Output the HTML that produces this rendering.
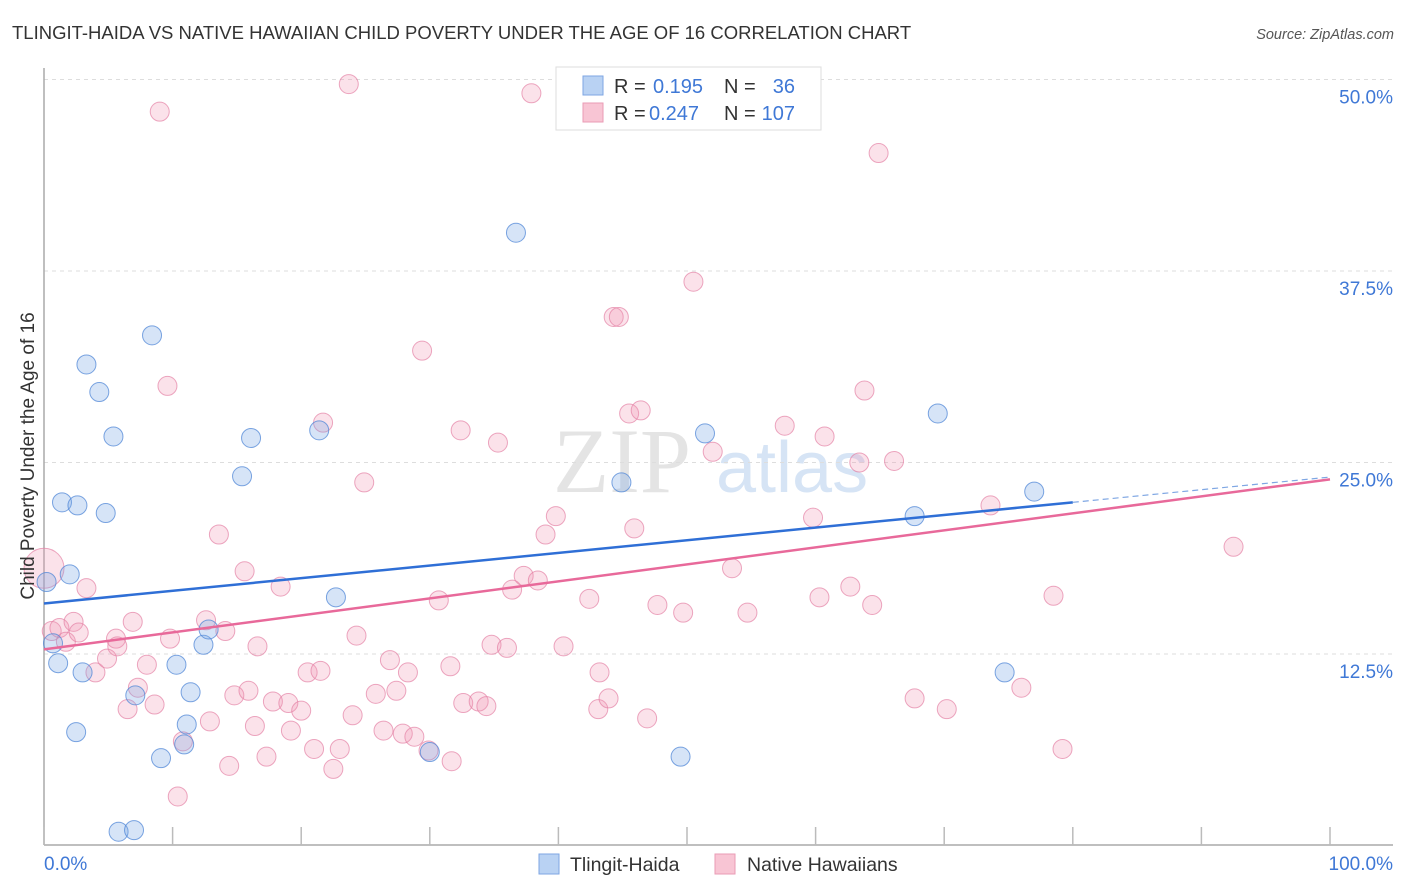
<!DOCTYPE html>
<html><head><meta charset="utf-8"><style>
body{margin:0;background:#fff;font-family:"Liberation Sans",sans-serif}
svg{display:block}
</style></head><body>
<svg id="chart" width="1406" height="892" xmlns="http://www.w3.org/2000/svg">
<text x="12" y="39" font-size="18.5" fill="#333">TLINGIT-HAIDA VS NATIVE HAWAIIAN CHILD POVERTY UNDER THE AGE OF 16 CORRELATION CHART</text>
<text x="1394" y="39" font-size="14.5" fill="#555" text-anchor="end" font-style="italic">Source: ZipAtlas.com</text>
<g>
<text x="553" y="492" font-size="92" font-family="Liberation Serif,serif" fill="#e4e4e4">ZIP</text>
<text x="716" y="492" font-size="72" fill="#d6e4f5">atlas</text>
</g>
<g id="grid"></g>
<g id="axes"></g>
<g id="pts"></g>
<g id="trend"></g>
<text transform="translate(34,456) rotate(-90)" font-size="19" fill="#333" text-anchor="middle">Child Poverty Under the Age of 16</text>
<text x="44" y="870" font-size="19" fill="#3f78d6">0.0%</text>
<text x="1393" y="870" font-size="19" fill="#3f78d6" text-anchor="end">100.0%</text>
<g>
<rect x="556" y="67" width="265" height="63" fill="#fff" stroke="#ddd"/>
<rect x="583" y="76" width="20" height="19" fill="#b9d2f3" stroke="#7ea6e3"/>
<rect x="583" y="103" width="20" height="19" fill="#f8c5d4" stroke="#ea9bb5"/>
<text x="614" y="93" font-size="20" fill="#333">R =</text>
<text x="653" y="93" font-size="20" fill="#3f78d6">0.195</text>
<text x="724" y="93" font-size="20" fill="#333">N =</text>
<text x="795" y="93" font-size="20" fill="#3f78d6" text-anchor="end">36</text>
<text x="614" y="120" font-size="20" fill="#333">R =</text>
<text x="649" y="120" font-size="20" fill="#3f78d6">0.247</text>
<text x="724" y="120" font-size="20" fill="#333">N =</text>
<text x="795" y="120" font-size="20" fill="#3f78d6" text-anchor="end">107</text>
</g>
<g>
<rect x="539" y="854" width="20" height="20" fill="#b9d2f3" stroke="#7ea6e3"/>
<text x="570" y="871" font-size="19.5" fill="#333">Tlingit-Haida</text>
<rect x="715" y="854" width="20" height="20" fill="#f8c5d4" stroke="#ea9bb5"/>
<text x="747" y="871" font-size="19.5" fill="#333">Native Hawaiians</text>
</g>
</svg>
<script>
const yTicks=[12.5,25,37.5,50];
const yTickLabels=["12.5%","25.0%","37.5%","50.0%"];
const xTicks=[0,10,20,30,40,50,60,70,80,90,100];
const blueX=[0.2,0.7,1.1,1.4,2.0,2.5,2.6,3.0,3.3,4.3,4.8,5.4,5.8,7.0,7.1,8.4,9.1,10.3,10.9,11.1,11.4,12.4,12.8,15.4,16.1,21.4,22.7,30.0,36.7,44.9,49.5,51.4,67.7,69.5,74.7,77.0];
const blueY=[17.2,13.2,11.9,22.4,17.7,7.4,22.2,11.3,31.4,29.6,21.7,26.7,0.9,1.0,9.8,33.3,5.7,11.8,6.6,7.9,10.0,13.1,14.1,24.1,26.6,27.1,16.2,6.1,40.0,23.7,5.8,26.9,21.5,28.2,11.3,23.1];
const pinkX=[0,0.6,1.2,1.7,2.3,2.7,3.3,4.0,4.9,5.6,5.7,6.5,6.9,7.3,8.0,8.6,9.0,9.6,9.8,10.4,10.8,12.6,12.9,13.6,14.1,14.4,14.8,15.6,15.9,16.4,16.6,17.3,17.8,18.4,19.0,19.2,20.0,20.5,21.0,21.5,21.7,22.5,23.0,24.0,23.7,24.3,24.9,25.8,26.4,26.9,27.4,27.9,28.3,28.8,29.4,29.9,30.7,31.6,31.7,32.4,32.6,33.8,34.4,34.8,35.3,36.0,36.4,37.3,37.9,38.4,39.0,39.8,40.4,42.4,43.1,43.2,43.9,44.3,44.7,45.5,45.9,46.4,46.9,47.7,49.7,50.5,52.0,53.5,54.7,57.6,59.8,60.3,60.7,62.7,63.4,63.8,64.4,64.9,66.1,67.7,70.2,73.6,76.0,78.5,79.2,92.5];
const pinkY=[18.1,14.0,14.2,13.3,14.6,13.9,16.8,11.3,12.2,13.5,13.0,8.9,14.6,10.3,11.8,9.2,47.9,30.0,13.5,3.2,6.8,14.7,8.1,20.3,14.0,5.2,9.8,17.9,10.1,7.8,13.0,5.8,9.4,16.9,9.3,7.5,8.8,11.3,6.3,11.4,27.6,5.0,6.3,8.5,49.7,13.7,23.7,9.9,7.5,12.1,10.1,7.3,11.3,7.1,32.3,6.2,16.0,11.7,5.5,27.1,9.3,9.4,9.1,13.1,26.3,12.9,16.7,17.6,49.1,17.3,20.3,21.5,13.0,16.1,8.9,11.3,9.6,34.5,34.5,28.2,20.7,28.4,8.3,15.7,15.2,36.8,25.7,18.1,15.2,27.4,21.4,16.2,26.7,16.9,25.0,29.7,15.7,45.2,25.1,9.6,8.9,22.2,10.3,16.3,6.3,19.5];
const blueTrend=[15.8,24.05];
const pinkTrend=[12.8,23.9];
const blueSolidEnd=80;
const NS="http://www.w3.org/2000/svg";
function sx(v){return 44+v*12.86;}
function sy(v){return 845.5-v*15.32;}
function mk(tag,attrs,parent){const e=document.createElementNS(NS,tag);for(const k in attrs)e.setAttribute(k,attrs[k]);parent.appendChild(e);return e;}
const grid=document.getElementById('grid'),axes=document.getElementById('axes'),pts=document.getElementById('pts'),tr=document.getElementById('trend');
yTicks.forEach((t,i)=>{
 const l=mk('line',{x1:44,x2:1393,y1:sy(t),y2:sy(t),stroke:'#ddd','stroke-dasharray':'4,4'},grid);
 
 
 const tx=mk('text',{x:1393,y:sy(t)+24,'font-size':19,fill:'#3f78d6','text-anchor':'end'},grid);
 tx.textContent=yTickLabels[i];
 
 
});
const ya=mk('line',{x1:44,x2:44,y1:68,y2:845,stroke:'#aaa','stroke-width':1.5},axes);


const xa=mk('line',{x1:44,x2:1393,y1:845,y2:845,stroke:'#aaa','stroke-width':1.5},axes);


xTicks.forEach(t=>{
 const l=mk('line',{x1:sx(t),x2:sx(t),y1:827,y2:845,stroke:'#bbb','stroke-width':1.5},axes);
 
 
});
pinkX.forEach((x,i)=>{
 const c=mk('circle',{cx:sx(x),cy:sy(pinkY[i]),r:i===0?20:9.5,fill:'rgba(242,150,180,0.28)',stroke:'rgba(228,130,165,0.7)','stroke-width':1},pts);
 
 
});
blueX.forEach((x,i)=>{
 const c=mk('circle',{cx:sx(x),cy:sy(blueY[i]),r:9.5,fill:'rgba(120,165,230,0.3)',stroke:'rgba(80,135,215,0.75)','stroke-width':1},pts);
 
 
});
function tv(t,x){return t[0]+(t[1]-t[0])*x/100;}
const b1=mk('line',{x1:sx(0),y1:sy(tv(blueTrend,0)),x2:sx(blueSolidEnd),y2:sy(tv(blueTrend,blueSolidEnd)),stroke:'#2f6fd6','stroke-width':2.5},tr);


const b2=mk('line',{x1:sx(blueSolidEnd),y1:sy(tv(blueTrend,blueSolidEnd)),x2:sx(100),y2:sy(tv(blueTrend,100)),stroke:'#7ea6e3','stroke-width':1.2,'stroke-dasharray':'6,4'},tr);


const p1=mk('line',{x1:sx(0),y1:sy(tv(pinkTrend,0)),x2:sx(100),y2:sy(tv(pinkTrend,100)),stroke:'#e8699a','stroke-width':2.5},tr);


</script>
</body></html>
